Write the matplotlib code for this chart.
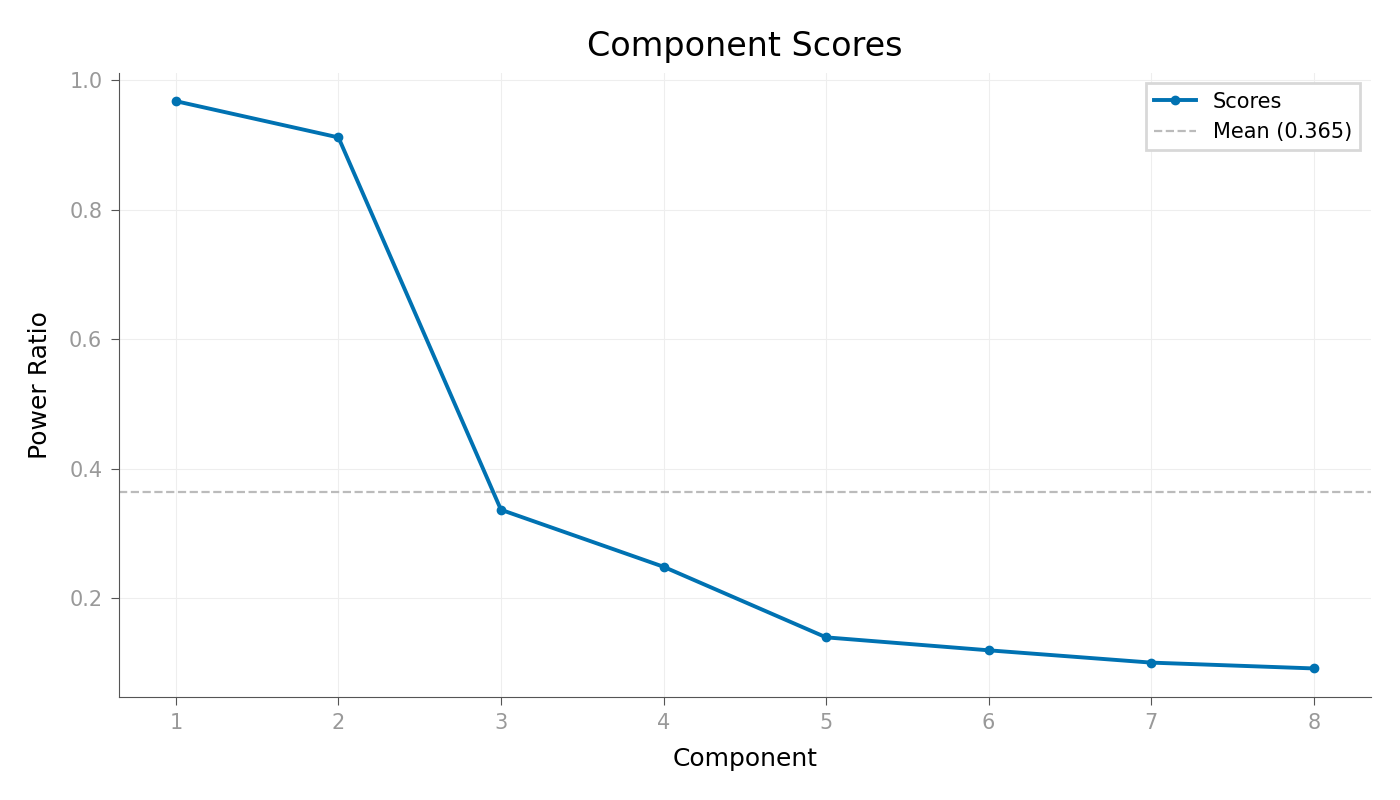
import matplotlib
matplotlib.use('Agg')
import matplotlib.pyplot as plt

components = [1, 2, 3, 4, 5, 6, 7, 8]
scores = [0.968, 0.912, 0.337, 0.249, 0.140, 0.120, 0.101, 0.092]
mean_score = 0.365

fig, ax = plt.subplots(figsize=(14, 8), dpi=100)

ax.plot(components, scores, color='#0072B2', linewidth=2.8, marker='o',
        markersize=6, label='Scores', zorder=3)
ax.axhline(mean_score, color='#bbbbbb', linestyle='--', linewidth=1.6,
           label=f'Mean ({mean_score:.3f})')

ax.set_title('Component Scores', fontsize=24, pad=12)
ax.set_xlabel('Component', fontsize=18, labelpad=10)
ax.set_ylabel('Power Ratio', fontsize=18, labelpad=12)
ax.set_xticks(components)

ax.grid(True, color='#eeeeee', linewidth=0.8)
ax.set_axisbelow(True)
for side in ['top', 'right']:
    ax.spines[side].set_visible(False)
for side in ['left', 'bottom']:
    ax.spines[side].set_color('#555555')
ax.tick_params(colors='#999999', labelsize=15, length=6, pad=6)
ax.tick_params(axis='both', which='both', color='#555555')

leg = ax.legend(loc='upper right', fontsize=15, fancybox=False, framealpha=1)
leg.get_frame().set_edgecolor('#d8d8d8')
leg.get_frame().set_linewidth(2)

fig.subplots_adjust(left=0.085, right=0.979, top=0.909, bottom=0.129)
fig.savefig('out.png', dpi=100)
